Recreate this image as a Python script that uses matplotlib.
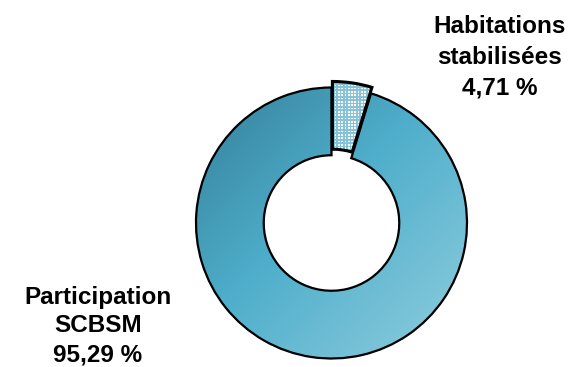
import numpy as np
import matplotlib
matplotlib.use("Agg")
import matplotlib.pyplot as plt
from matplotlib.colors import LinearSegmentedColormap

# data
labels = ["Habitations\nstabilisées", "Participation\nSCBSM"]
values = [4.71, 95.29]
value_txt = ["4,71 %", "95,29 %"]

plt.rcParams['font.family'] = ['Liberation Sans', 'DejaVu Sans']

W, H = 579, 367
fig = plt.figure(figsize=(W / 100, H / 100), dpi=100)

# donut centre / radius in pixels
cx, cy, R = 331.5, 223.0, 135.5
span = 1.25
ax = fig.add_axes([(cx - span * R) / W, (H - cy - span * R) / H,
                   2 * span * R / W, 2 * span * R / H])
ax.set_xlim(-span, span)
ax.set_ylim(-span, span)
ax.set_aspect('equal')
ax.axis('off')

wedges, _ = ax.pie(values, startangle=90, counterclock=False,
                   explode=[0.045, 0], radius=1.0,
                   wedgeprops=dict(width=0.5, edgecolor='black', linewidth=1.6),
                   colors=['none', 'none'])

# gradient fill for the big slice
cmap = LinearSegmentedColormap.from_list(
    "teal", [(0.0, '#357f98'), (0.45, '#4eaecb'), (1.0, '#90cede')])
xx, yy = np.meshgrid(np.linspace(-1, 1, 300), np.linspace(1, -1, 300))
grad = (xx - yy + 2) / 4
im = ax.imshow(grad, cmap=cmap, extent=(-1, 1, -1, 1), origin='upper',
               vmin=0, vmax=1, zorder=0.5, interpolation='bilinear')
im.set_clip_path(wedges[1])

# dotted texture for the small slice
cell = 1.65 / R
x0, x1, y0, y1 = -0.1, 0.4, 0.3, 1.15
nx = int((x1 - x0) / cell)
ny = int((y1 - y0) / cell)
ii, jj = np.meshgrid(np.arange(nx), np.arange(ny))
dots = ((ii % 2 == 0) & (jj % 2 == 0)).astype(float)
dcmap = LinearSegmentedColormap.from_list("dots", ['#86c3d8', '#ffffff'])
im2 = ax.imshow(dots, cmap=dcmap, extent=(x0, x0 + nx * cell, y0, y0 + ny * cell),
                origin='upper', vmin=0, vmax=1, zorder=0.5,
                interpolation='nearest')
im2.set_clip_path(wedges[0])
wedges[0].set_linewidth(2.2)

for w in wedges:
    w.set_zorder(2)

ax.text((500 - cx) / R, (cy - 57) / R, labels[0] + "\n" + value_txt[0],
        ha='center', va='center', fontsize=17.5, fontweight='bold',
        linespacing=1.42, clip_on=False)
ax.text((98 - cx) / R, (cy - 326) / R, labels[1] + "\n" + value_txt[1],
        ha='center', va='center', fontsize=17.5, fontweight='bold',
        linespacing=1.32, clip_on=False)

fig.savefig("out.png", dpi=100)
